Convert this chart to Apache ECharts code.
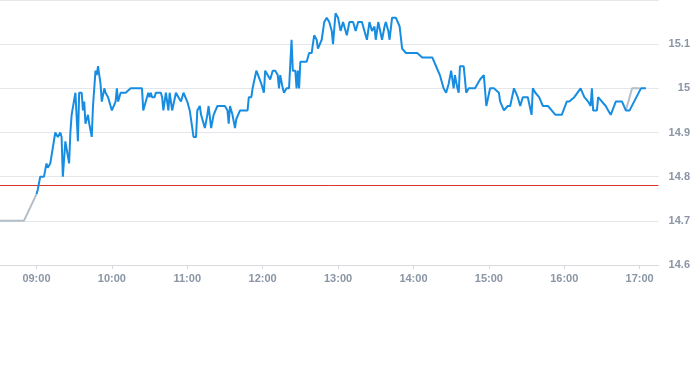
<!DOCTYPE html>
<html>
<head>
<meta charset="utf-8">
<script src="https://cdn.jsdelivr.net/npm/echarts@6/dist/echarts.min.js"></script>
<style>
html,body{margin:0;padding:0;background:#fff;}
#chart{width:693px;height:365px;}
</style>
</head>
<body>
<div id="chart"></div>
<script>
// ---- data ----
const times = ["09:00","09:01","09:03","09:06","09:08","09:09","09:11","09:15","09:17","09:19","09:20","09:21","09:23","09:26","09:27","09:28","09:31","09:33","09:34","09:36","09:37","09:38","09:39","09:41","09:42","09:44","09:45","09:47","09:48","09:49","09:51","09:52","09:54","09:55","09:57","09:58",
"10:00","10:01","10:03","10:04","10:05","10:07","10:08","10:11","10:15","10:19","10:22","10:24","10:25","10:27","10:29","10:30","10:31","10:32","10:34","10:35","10:39","10:40","10:41","10:43","10:45","10:46","10:48","10:49","10:51","10:53","10:55","10:57",
"11:00","11:02","11:04","11:05","11:07","11:08","11:10","11:11","11:14","11:16","11:17","11:19","11:21","11:24","11:27","11:30","11:32","11:33","11:34","11:36","11:38","11:39","11:42","11:48","11:49","11:51","11:52","11:53","11:55","11:56","11:59",
"12:01","12:02","12:04","12:06","12:08","12:10","12:12","12:13","12:14","12:16","12:17","12:19","12:21","12:23","12:24","12:26","12:27","12:28","12:29","12:30","12:33","12:35","12:37","12:39","12:41","12:43","12:44","12:47","12:49","12:51","12:53","12:55","12:56","12:58",
"13:00","13:02","13:04","13:05","13:07","13:09","13:12","13:14","13:16","13:19","13:21","13:23","13:25","13:27","13:29","13:30","13:32","13:33","13:35","13:37","13:38","13:40","13:41","13:43","13:44","13:46","13:49","13:51","13:54","13:59",
"14:03","14:07","14:15","14:18","14:21","14:24","14:26","14:28","14:30","14:32","14:33","14:35","14:36","14:37","14:40","14:42","14:44","14:49","14:53","14:56","14:58",
"15:01","15:04","15:08","15:09","15:12","15:15","15:17","15:20","15:23","15:25","15:27","15:31","15:34","15:35","15:37","15:40","15:43","15:47","15:50","15:53","15:58",
"16:02","16:04","16:08","16:13","16:16","16:19","16:21","16:22","16:23","16:26","16:27","16:30","16:33","16:35","16:37","16:41","16:44","16:46","16:49","16:52","17:01","17:05"];
const prices = [14.76,14.77,14.80,14.80,14.83,14.82,14.83,14.90,14.89,14.90,14.89,14.80,14.88,14.83,14.90,14.94,14.99,14.88,14.99,14.99,14.95,14.97,14.92,14.94,14.92,14.89,14.96,15.04,15.03,15.05,15.01,14.97,15.00,14.99,14.98,14.98,
14.95,14.95,14.97,15.00,14.97,14.99,14.99,14.99,15.00,15.00,15.00,15.00,14.95,14.97,14.99,14.98,14.99,14.98,14.98,14.99,14.99,14.98,14.95,14.99,14.95,14.99,14.95,14.95,14.99,14.98,14.97,14.99,
14.97,14.95,14.91,14.89,14.89,14.95,14.96,14.94,14.91,14.94,14.96,14.91,14.94,14.96,14.96,14.96,14.95,14.92,14.96,14.94,14.91,14.93,14.95,14.95,14.98,14.98,15.00,15.00,15.04,15.04,15.01,
14.99,15.04,15.03,15.02,15.04,15.04,15.03,15.00,15.03,15.00,14.99,15.00,15.00,15.11,15.04,15.04,15.00,15.04,15.00,15.06,15.06,15.06,15.08,15.08,15.12,15.11,15.09,15.11,15.15,15.16,15.15,15.13,15.10,15.17,
15.16,15.13,15.15,15.14,15.12,15.15,15.15,15.13,15.15,15.15,15.13,15.11,15.15,15.13,15.14,15.11,15.15,15.15,15.11,15.14,15.15,15.13,15.11,15.16,15.16,15.16,15.14,15.09,15.08,15.08,
15.08,15.07,15.07,15.05,15.03,15.00,14.99,15.01,15.04,15.00,15.03,15.00,14.99,15.05,15.05,14.99,15.00,15.00,15.02,15.03,14.96,
15.00,15.00,14.99,14.97,14.95,14.96,14.96,15.00,14.98,14.96,14.98,14.98,14.94,15.00,14.99,14.98,14.96,14.96,14.95,14.94,14.94,
14.97,14.97,14.98,15.00,14.98,14.97,14.96,15.00,14.95,14.95,14.98,14.97,14.96,14.95,14.94,14.97,14.97,14.97,14.95,14.95,15.00,15.00];

const grayTimes  = ["08:31","08:50","09:00", null, "16:49","16:54","17:00"];
const grayPrices = [14.70, 14.70, 14.76, null, 14.95, 15.00, 15.00];

const prevClose = 14.78;
const axisStart = "08:31";
const axisEnd = "17:15";
const hourTicks = ["09:00","10:00","11:00","12:00","13:00","14:00","15:00","16:00","17:00"];

// ---- helpers ----
function toMin(s){ const p = s.split(':'); return (+p[0])*60 + (+p[1]); }
function fmt(m){ const h = Math.floor(m/60), mm = Math.round(m%60); return (h<10?'0':'')+h+':'+(mm<10?'0':'')+mm; }

const blueData = times.map((t,i)=>[toMin(t), prices[i]]);
const grayData = grayTimes.map((t,i)=> t===null ? [null,null] : [toMin(t), grayPrices[i]]);
const refData = [[toMin(axisStart), prevClose], [toMin(axisEnd), prevClose]];
const hourVals = hourTicks.map(toMin);

const labelColor = '#8a95a5';
const labelFont = {color: labelColor, fontSize: 11, fontWeight: 'bold', fontFamily: '"Liberation Sans", Arial, sans-serif'};

const chart = echarts.init(document.getElementById('chart'), null, {renderer:'canvas'});
chart.setOption({
  animation: false,
  backgroundColor: '#fff',
  grid: {left: 0, right: 30, top: -1, bottom: 100, containLabel: false},
  xAxis: {
    type: 'value',
    min: toMin(axisStart), max: toMin(axisEnd),
    axisLine: {show: true, lineStyle: {color: '#d6d9de', width: 1}},
    axisTick: {show: true, length: 4, lineStyle: {color: '#d6d9de'}, customValues: hourVals},
    axisLabel: Object.assign({margin: 8, customValues: hourVals, formatter: v => fmt(v)}, labelFont),
    splitLine: {show: false}
  },
  yAxis: {
    type: 'value',
    position: 'right',
    min: 14.6, max: 15.2, interval: 0.1,
    axisLine: {show: false},
    axisTick: {show: false},
    axisLabel: Object.assign({align: 'right', margin: 31.5, showMaxLabel: false,
      formatter: v => String(+v.toFixed(2))}, labelFont),
    splitLine: {show: true, lineStyle: {color: '#e4e6ea', width: 1}}
  },
  series: [
    {
      type: 'line', data: refData, showSymbol: false, silent: true,
      lineStyle: {color: '#d9372c', width: 1}, itemStyle: {color: '#d9372c'}, z: 1
    },
    {
      type: 'line', data: grayData, showSymbol: false, connectNulls: false,
      lineStyle: {color: '#b3bec7', width: 2}, itemStyle: {color: '#b3bec7'}, z: 2
    },
    {
      type: 'line', data: blueData, showSymbol: false,
      lineStyle: {color: '#178de2', width: 2}, itemStyle: {color: '#178de2'}, z: 3
    }
  ]
});
</script>
</body>
</html>
